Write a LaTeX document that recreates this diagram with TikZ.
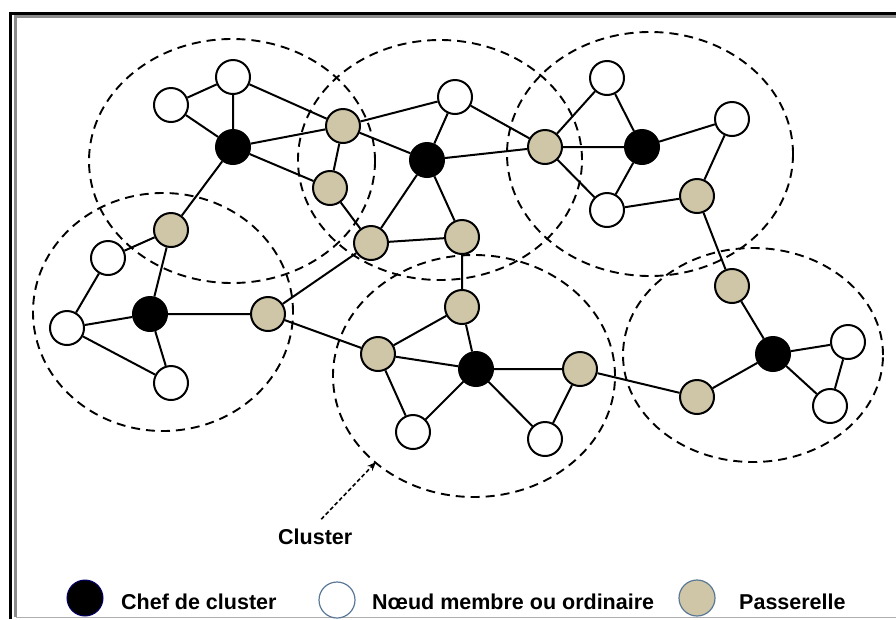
\documentclass[tikz,border=0pt]{standalone}
\usepackage{fontspec}
\setmainfont{Liberation Sans}
\usetikzlibrary{arrows.meta}
\definecolor{tan}{RGB}{206,198,166}
\definecolor{frgray}{RGB}{140,140,140}
\definecolor{lgblue}{RGB}{90,120,150}
\tikzset{
  nd/.style={circle,draw=black,line width=2pt,minimum size=34pt,inner sep=0pt},
  chef/.style={nd,fill=black},
  memb/.style={nd,fill=white},
  pass/.style={nd,fill=tan},
  lnk/.style={line width=2pt,black},
  clus/.style={line width=1.9pt,dash pattern=on 9pt off 6pt},
  lab/.style={font=\fontsize{21.5}{24}\selectfont\bfseries,inner sep=0pt},
}
\begin{document}
\begin{tikzpicture}[x=1pt,y=-1pt]
\useasboundingbox (0,0) rectangle (896,619);
% frame
\draw[line width=3pt] (10.5,619) -- (10.5,13) -- (896,13);
\draw[frgray,line width=2.2pt] (15.5,617) -- (15.5,16.5) -- (896,16.5);
\draw[frgray!70,line width=1.2pt] (15.5,617.5) -- (896,617.5);
% clusters
\draw[clus] (232,161) ellipse [x radius=143pt, y radius=122pt];
\draw[clus] (440,160) ellipse [x radius=142pt, y radius=120pt];
\draw[clus] (650,154) ellipse [x radius=143pt, y radius=122pt];
\draw[clus] (163,312) ellipse [x radius=130pt, y radius=119pt];
\draw[clus] (474,376) ellipse [x radius=141pt, y radius=121pt];
\draw[clus] (753,355) ellipse [x radius=130pt, y radius=107pt];
% nodes
\node[memb] (a1) at (233,77) {};
\node[memb] (a2) at (171,105) {};
\node[chef] (A) at (233,147) {};
\node[pass] (gl) at (171,230) {};
\node[memb] (w3) at (108,258) {};
\node[memb] (w4) at (67,328) {};
\node[chef] (B) at (150,314) {};
\node[memb] (w5) at (171,383) {};
\node[pass] (gm) at (268,314) {};
\node[pass] (g1) at (343,126) {};
\node[pass] (g2) at (330,188) {};
\node[pass] (g3) at (371,243) {};
\node[memb] (w6) at (455,97) {};
\node[chef] (C) at (427,160) {};
\node[pass] (g4) at (462,237) {};
\node[pass] (g5) at (545,147) {};
\node[memb] (w7) at (607,78) {};
\node[chef] (D) at (642,147) {};
\node[memb] (w8) at (732,119) {};
\node[memb] (w9) at (607,210) {};
\node[pass] (g6) at (697,196) {};
\node[pass] (g7) at (732,286) {};
\node[chef] (E) at (773,354) {};
\node[memb] (w10) at (848,342) {};
\node[memb] (w11) at (830,406) {};
\node[pass] (g8) at (697,397) {};
\node[pass] (g9) at (462,307) {};
\node[pass] (g10) at (378,354) {};
\node[chef] (F) at (476,369) {};
\node[pass] (g11) at (580,369) {};
\node[memb] (w12) at (413,432) {};
\node[memb] (w13) at (545,439) {};
% links
\draw[lnk] (a2) -- (a1) (a1) -- (A) (a2) -- (A) (a1) -- (g1) (A) -- (g1) (A) -- (g2) (A) -- (gl);
\draw[lnk] (gl) -- (w3) (gl) -- (B) (w3) -- (w4) (w4) -- (B) (w4) -- (w5) (B) -- (w5) (B) -- (gm);
\draw[lnk] (g1) -- (w6) (g1) -- (g2) (g1) -- (C) (g2) -- (g3) (g3) -- (C) (g3) -- (g4) (g3) -- (gm);
\draw[lnk] (C) -- (w6) (C) -- (g4) (C) -- (g5) (w6) -- (g5);
\draw[lnk] (g5) -- (w7) (g5) -- (D) (g5) -- (w9) (D) -- (w7) (D) -- (w8) (D) -- (w9) (w8) -- (g6) (g6) -- (w9) (g6) -- (g7) (g7) -- (E);
\draw[lnk] (E) -- (w10) (E) -- (w11) (w10) -- (w11) (E) -- (g8) (g8) -- (g11);
\draw[lnk] (g4) -- (g9) (g9) -- (F) (g9) -- (g10) (g10) -- (F) (g10) -- (w12) (F) -- (w12) (F) -- (w13) (F) -- (g11) (g11) -- (w13) (gm) -- (g10);
% cluster label
\node[lab,anchor=base west] (cl) at (278,544) {Cluster};
\coordinate (ct) at (376,462);
\draw[line width=1.6pt,dash pattern=on 4pt off 2.5pt,-{Stealth[length=9pt,width=7pt]}] (cl.north)++(6,-9) coordinate (cs) -- (ct);
% legend
\node[circle,fill=black,draw=black!60!blue,line width=1pt,minimum size=36pt,inner sep=0pt] (l1) at (85,598) {};
\node[lab,anchor=base west] (t1) at (121,609) {Chef de cluster};
\node[circle,fill=white,draw=lgblue,line width=1.2pt,minimum size=36pt,inner sep=0pt] (l2) at (337,600) {};
\node[lab,anchor=base west] (t2) at (372,609) {Nœud membre ou ordinaire};
\node[circle,fill=tan,draw=lgblue,line width=1.2pt,minimum size=36pt,inner sep=0pt] (l3) at (697,598) {};
\node[lab,anchor=base west] (t3) at (739,609) {Passerelle};
\end{tikzpicture}
\end{document}
